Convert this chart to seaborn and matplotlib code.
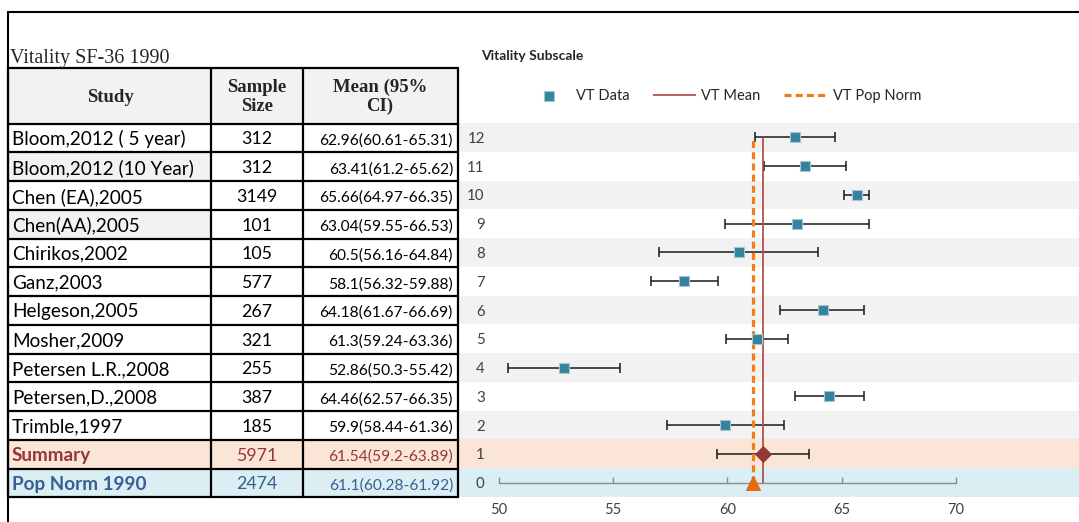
import numpy as np
import pandas as pd
import matplotlib
matplotlib.use("Agg")
import matplotlib.pyplot as plt
import seaborn as sns

# table values (top to bottom)
studies = ["Bloom,2012 ( 5 year)", "Bloom,2012 (10 Year)", "Chen (EA),2005", "Chen(AA),2005",
           "Chirikos,2002", "Ganz,2003", "Helgeson,2005", "Mosher,2009", "Petersen L.R.,2008",
           "Petersen,D.,2008", "Trimble,1997", "Summary", "Pop Norm 1990"]
sample_size = [312, 312, 3149, 101, 105, 577, 267, 321, 255, 387, 185, 5971, 2474]
mean = [62.96, 63.41, 65.66, 63.04, 60.5, 58.1, 64.18, 61.3, 52.86, 64.46, 59.9, 61.54, 61.1]
ci_low = [60.61, 61.2, 64.97, 59.55, 56.16, 56.32, 61.67, 59.24, 50.3, 62.57, 58.44, 59.2, 60.28]
ci_high = [65.31, 65.62, 66.35, 66.53, 64.84, 59.88, 66.69, 63.36, 55.42, 66.35, 61.36, 63.89, 61.92]

# chart rows: 12 = first study ... 1 = summary, 0 = pop norm
row_pos = [12, 11, 10, 9, 8, 7, 6, 5, 4, 3, 2, 1, 0]
# whisker ends as they are drawn in the chart (studies + summary)
bar_low = [61.2, 61.61, 65.11, 59.88, 57.0, 56.64, 62.31, 59.92, 50.41, 62.94, 57.34, 59.53]
bar_high = [64.7, 65.17, 66.18, 66.18, 63.96, 59.57, 66.0, 62.65, 55.28, 65.96, 62.47, 63.58]

x_ticks = [50, 55, 60, 65, 70]

sns.set_theme(style="white")
plt.rcParams["font.family"] = ["Lato", "DejaVu Sans"]

W, H = 1079, 522
fig = plt.figure(figsize=(W / 100, H / 100), dpi=100)

# ---- forest plot ----
ax = fig.add_axes([459 / W, (H - 497) / H, (W - 459) / W, 374 / H])
ax.set_xlim(48.25, 75.39)
ax.set_ylim(-0.5, 12.5)

for r in range(13):
    if r == 1:
        c = "#fbe5d6"
    elif r == 0:
        c = "#daeef3"
    elif r % 2 == 0:
        c = "#f2f2f2"
    else:
        c = "white"
    ax.axhspan(r - 0.5, r + 0.5, color=c, lw=0, zorder=0)

m = np.array(mean[:12])
ax.errorbar(m, row_pos[:12], xerr=[m - np.array(bar_low), np.array(bar_high) - m],
            fmt="none", ecolor="#1a1a1a", elinewidth=1.1, capsize=3.5, capthick=1.1, zorder=3)

ax.vlines(mean[11], 0, 12, color="#b5504b", lw=1.3, label="VT Mean", zorder=4)
ax.vlines(mean[12], 0, 12, color="#f07d16", lw=2.3, linestyles=(0, (2.2, 1.3)),
          label="VT Pop Norm", zorder=4)

df = pd.DataFrame({"study": studies[:11], "row": row_pos[:11], "mean": mean[:11]})
sns.scatterplot(data=df, x="mean", y="row", marker="s", s=42, color="#31849b",
                edgecolor="#a8c3d6", linewidth=0.8, zorder=5, label="VT Data", ax=ax)
ax.scatter(mean[11], row_pos[11], marker="D", s=60, color="#953735", zorder=6)
ax.scatter(mean[12], row_pos[12], marker="^", s=95, color="#e46c0a", zorder=6, clip_on=False)

for s in ["top", "right", "left"]:
    ax.spines[s].set_visible(False)
ax.spines["bottom"].set_position(("data", 0))
ax.spines["bottom"].set_bounds(x_ticks[0], x_ticks[-1])
ax.spines["bottom"].set_color("#8c8c8c")
ax.spines["bottom"].set_linewidth(1)
ax.set_xticks(x_ticks)
ax.tick_params(axis="x", bottom=True, direction="in", length=4.5, width=1, color="#8c8c8c",
               pad=15, labelsize=10.5, labelcolor="#404040")
ax.set_yticks(row_pos)
ax.tick_params(axis="y", left=False, length=0, pad=-18.5, labelsize=10.8, labelcolor="#404040")
ax.set_xlabel("")
ax.set_ylabel("")

ax.get_legend().remove()
handles, labels = ax.get_legend_handles_labels()
order = [labels.index(l) for l in ["VT Data", "VT Mean", "VT Pop Norm"]]
fig.legend([handles[i] for i in order], [labels[i] for i in order], loc="center",
           bbox_to_anchor=(724 / W, (H - 96) / H), ncol=3, frameon=False, fontsize=10.5,
           handlelength=3.0, handletextpad=0.35, columnspacing=1.6)

fig.text(481 / W, (H - 56) / H, "Vitality Subscale", fontsize=10, fontweight="bold",
         va="center", ha="left")

# ---- table (pixel coordinates) ----
tb = fig.add_axes([0, 0, 1, 1], facecolor="none")
tb.set_xlim(0, W)
tb.set_ylim(H, 0)
tb.axis("off")

col_x = [8, 211, 303, 458]
top, head_bot, row_h = 68, 123.5, 28.75
n = len(studies)
bottom = head_bot + n * row_h

tb.add_patch(plt.Rectangle((col_x[0], top), col_x[-1] - col_x[0], head_bot - top,
                           color="#f2f2f2", lw=0))
for i in [1, 3]:
    tb.add_patch(plt.Rectangle((col_x[0], head_bot + i * row_h), col_x[1] - col_x[0], row_h,
                               color="#f2f2f2", lw=0))
tb.add_patch(plt.Rectangle((col_x[0], head_bot + 11 * row_h), col_x[-1] - col_x[0], row_h,
                           color="#fbe5d6", lw=0))
tb.add_patch(plt.Rectangle((col_x[0], head_bot + 12 * row_h), col_x[-1] - col_x[0], row_h,
                           color="#daeef3", lw=0))

for x in col_x:
    tb.plot([x, x], [top, bottom], color="black", lw=1.6)
tb.plot([col_x[0], col_x[-1]], [top, top], color="black", lw=1.6)
for i in range(n + 1):
    y = head_bot + i * row_h
    tb.plot([col_x[0], col_x[-1]], [y, y], color="black", lw=1.6)

# outer frame
tb.plot([8, W], [12, 12], color="black", lw=1.5)
tb.plot([8, 8], [12, H], color="black", lw=1.5)

serif = ["Liberation Serif", "DejaVu Serif"]
tb.text(10, 63, "Vitality SF-36 1990", family=serif, fontsize=14.5, va="baseline", ha="left")
tb.text(110, 97, "Study", family=serif, fontsize=13.5, fontweight="bold", ha="center", va="center")
tb.text(257, 97, "Sample\nSize", family=serif, fontsize=13.5, fontweight="bold", ha="center",
        va="center", linespacing=1.15)
tb.text(380, 97, "Mean (95%\nCI)", family=serif, fontsize=13.5, fontweight="bold", ha="center",
        va="center", linespacing=1.15)

for i in range(n):
    yc = head_bot + (i + 0.5) * row_h
    if i == 11:
        c, w = "#953735", "bold"
    elif i == 12:
        c, w = "#366092", "bold"
    else:
        c, w = "black", "normal"
    tb.text(12, yc, studies[i], fontsize=13.6, color=c, fontweight=w, va="center_baseline")
    tb.text(257, yc, str(sample_size[i]), fontsize=12.8, color=c, ha="center",
            va="center_baseline")
    tb.text(453, yc + 1, f"{mean[i]:g}({ci_low[i]:g}-{ci_high[i]:g})", fontsize=11.2, color=c,
            ha="right", va="center_baseline")

fig.savefig("out.png", dpi=100)
